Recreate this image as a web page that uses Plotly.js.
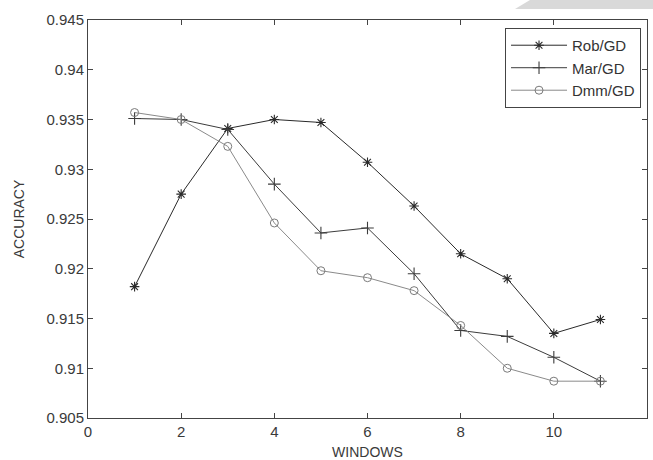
<!DOCTYPE html>
<html>
<head>
<meta charset="utf-8">
<script src="https://cdn.plot.ly/plotly-3.0.1.min.js"></script>
<style>html,body{margin:0;padding:0;background:#fff;}#chart{width:653px;height:460px;}</style>
</head>
<body>
<div id="chart"></div>
<script>
const windows = [1, 2, 3, 4, 5, 6, 7, 8, 9, 10, 11];
const robGD = [0.9182, 0.9275, 0.9341, 0.9350, 0.9347, 0.9307, 0.9263, 0.9215, 0.9190, 0.9135, 0.9149];
const marGD = [0.9351, 0.9350, 0.9340, 0.9285, 0.9236, 0.9241, 0.9195, 0.9138, 0.9132, 0.9111, 0.9087];
const dmmGD = [0.9357, 0.9350, 0.9323, 0.9246, 0.9198, 0.9191, 0.9178, 0.9143, 0.9100, 0.9087, 0.9087];
const seriesNames = ['Rob/GD', 'Mar/GD', 'Dmm/GD'];
const xTicks = [0, 2, 4, 6, 8, 10, 12];
const yTicks = [0.905, 0.91, 0.915, 0.92, 0.925, 0.93, 0.935, 0.94, 0.945];

const font = {family: 'Liberation Sans, Arial, sans-serif', size: 15, color: '#3a3a3a'};

const traces = [
  {x: windows, y: robGD, name: seriesNames[0], mode: 'lines+markers',
   line: {color: '#2a2a2a', width: 1},
   marker: {symbol: 'asterisk-open', size: 8, color: '#2a2a2a', line: {color: '#2a2a2a', width: 1.1}}},
  {x: windows, y: marGD, name: seriesNames[1], mode: 'lines+markers',
   line: {color: '#3c3c3c', width: 1},
   marker: {symbol: 'cross-thin-open', size: 9, color: '#3c3c3c', line: {color: '#3c3c3c', width: 1.1}}},
  {x: windows, y: dmmGD, name: seriesNames[2], mode: 'lines+markers',
   line: {color: '#8a8a8a', width: 1},
   marker: {symbol: 'circle-open', size: 8, color: '#7a7a7a', line: {color: '#7a7a7a', width: 1}}}
];

const layout = {
  width: 653, height: 460,
  margin: {l: 88, r: 6, t: 20, b: 42},
  paper_bgcolor: '#fff', plot_bgcolor: '#fff',
  font: font,
  showlegend: true,
  legend: {x: 0.9893, xanchor: 'right', y: 0.98, yanchor: 'top',
           bgcolor: '#fff', bordercolor: '#444', borderwidth: 1,
           itemwidth: 56,
           font: {family: font.family, size: 15, color: '#333'},
           tracegroupgap: 0},
  xaxis: {range: [0, 12], tickvals: xTicks, ticktext: xTicks.map(String),
          ticks: 'inside', ticklen: 5, tickcolor: '#444', mirror: 'ticks',
          showline: true, linecolor: '#444', linewidth: 1, showgrid: false, zeroline: false,
          tickfont: {family: font.family, size: 15, color: '#3a3a3a'},
          title: {text: 'WINDOWS', font: {family: font.family, size: 14, color: '#3a3a3a'}, standoff: 10}},
  yaxis: {range: [0.905, 0.945], tickvals: yTicks, ticktext: yTicks.map(String),
          ticks: 'inside', ticklen: 5, tickcolor: '#444', mirror: 'ticks',
          showline: true, linecolor: '#444', linewidth: 1, showgrid: false, zeroline: false,
          tickfont: {family: font.family, size: 15, color: '#3a3a3a'},
          title: {text: 'ACCURACY', font: {family: font.family, size: 14, color: '#3a3a3a'}, standoff: 18}},
  shapes: [{type: 'path', xref: 'paper', yref: 'paper',
            path: 'M 0.7639 1.0276 L 0.7907 1.0503 L 1.011 1.0503 L 1.011 1.0276 Z',
            fillcolor: '#d9d9d9', line: {width: 0}, layer: 'below'}]
};

Plotly.newPlot('chart', traces, layout, {staticPlot: true, displayModeBar: false});
</script>
</body>
</html>
